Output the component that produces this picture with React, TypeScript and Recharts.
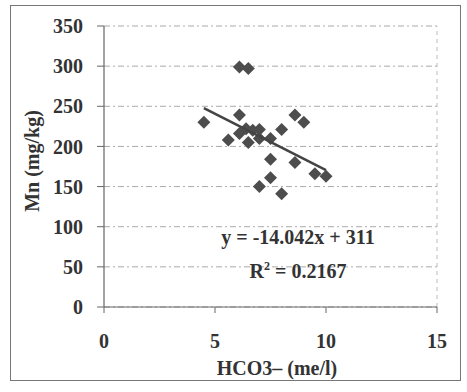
import React from 'react';
import { ScatterChart, Scatter, XAxis, YAxis, CartesianGrid, ReferenceLine } from 'recharts';

const hco3 = [4.5, 6.1, 6.5, 5.6, 6.1, 6.1, 6.4, 6.5, 6.7, 7.0, 7.0, 7.5, 7.5, 7.5, 7.0, 8.0, 8.0, 8.6, 9.0, 8.6, 9.5, 10.0];
const mn = [230, 299, 297, 208, 239, 216, 222, 205, 220, 221, 210, 210, 184, 161, 150, 221, 141, 239, 230, 180, 166, 163];

const trendX = [4.5, 10];
const slope = -14.042;
const intercept = 311;

const xTicks = [0, 5, 10, 15];
const yTicks = [0, 50, 100, 150, 200, 250, 300, 350];

const points = hco3.map((x, i) => ({ x, y: mn[i] }));
const trend = trendX.map((x) => ({ x, y: slope * x + intercept }));

const FONT = '"Liberation Serif", "Times New Roman", serif';
const TXT = '#333';

const Diamond = (props: any) => {
  const { cx, cy } = props;
  const r = 6.5;
  return (
    <polygon
      points={`${cx},${cy - r} ${cx + r},${cy} ${cx},${cy + r} ${cx - r},${cy}`}
      fill="#4d4d4d"
    />
  );
};

const NoShape = () => <g />;

export default function App() {
  return (
    <div style={{ position: 'absolute', left: 0, top: 0, width: 467, height: 392, background: '#fff' }}>
      <div
        style={{
          position: 'absolute',
          left: 10,
          top: 5,
          width: 449,
          height: 374,
          border: '1.5px solid #777',
        }}
      />
      <div style={{ position: 'absolute', left: 0, top: 0 }}>
        <ScatterChart width={467} height={392} margin={{ top: 26, right: 30, bottom: 35, left: 0 }}>
          <CartesianGrid vertical={false} stroke="#aaa" strokeDasharray="6 3 2 3" />
          <ReferenceLine x={15} stroke="#bbb" strokeDasharray="4 4" />
          <XAxis
            type="number"
            dataKey="x"
            domain={[0, 15]}
            ticks={xTicks}
            height={50}
            axisLine={{ stroke: '#666', strokeWidth: 1.2 }}
            tickLine={{ stroke: '#666' }}
            tickSize={6}
            tickMargin={21}
            tick={{ fill: TXT, fontSize: 20, fontWeight: 'bold', fontFamily: FONT }}
          />
          <YAxis
            type="number"
            dataKey="y"
            domain={[0, 350]}
            ticks={yTicks}
            width={104}
            axisLine={{ stroke: '#666', strokeWidth: 1.2 }}
            tickLine={{ stroke: '#666' }}
            tickSize={7}
            tickMargin={14}
            tick={{ fill: TXT, fontSize: 20, fontWeight: 'bold', fontFamily: FONT }}
          />
          <Scatter data={points} shape={Diamond} isAnimationActive={false} />
          <Scatter
            data={trend}
            line={{ stroke: '#444', strokeWidth: 2.5 }}
            shape={NoShape}
            isAnimationActive={false}
          />
          <text
            x={32}
            y={161}
            transform="rotate(-90 32 161)"
            textAnchor="middle"
            dominantBaseline="central"
            fill={TXT}
            fontSize={20}
            fontWeight="bold"
            fontFamily={FONT}
          >
            Mn (mg/kg)
          </text>
          <text x={277} y={375} textAnchor="middle" fill={TXT} fontSize={20} fontWeight="bold" fontFamily={FONT}>
            HCO3– (me/l)
          </text>
          <text x={298} y={244} textAnchor="middle" fill={TXT} fontSize={20} fontWeight="bold" fontFamily={FONT}>
            y = -14.042x + 311
          </text>
          <text x={298} y={278} textAnchor="middle" fill={TXT} fontSize={20} fontWeight="bold" fontFamily={FONT}>
            R<tspan dy={-8} fontSize={12}>2</tspan>
            <tspan dy={8}> = 0.2167</tspan>
          </text>
        </ScatterChart>
      </div>
    </div>
  );
}
